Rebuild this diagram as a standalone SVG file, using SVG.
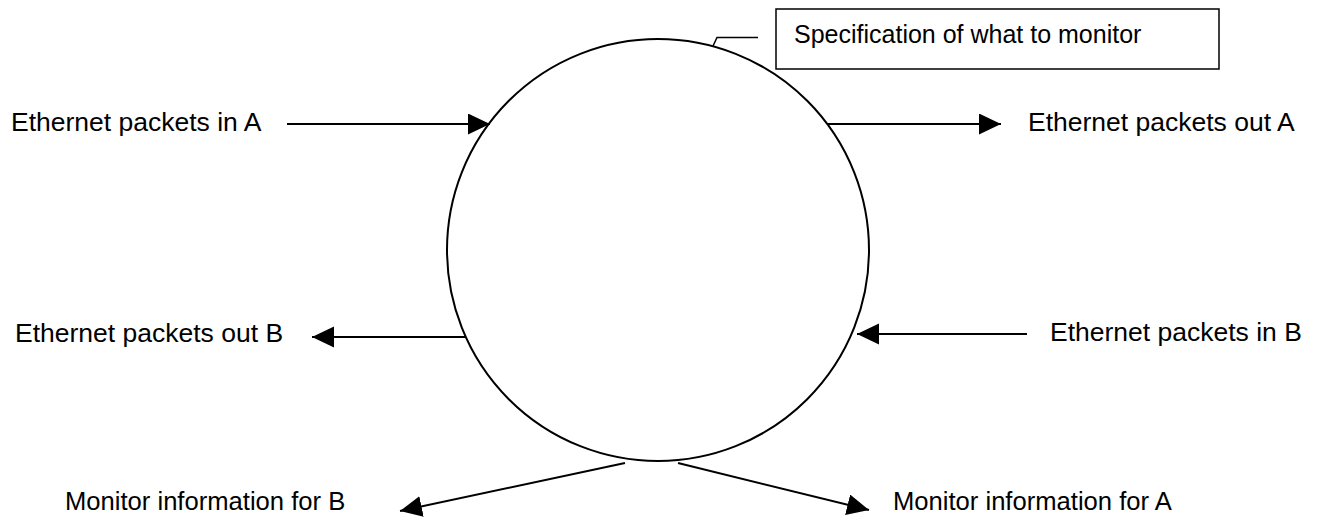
<svg xmlns="http://www.w3.org/2000/svg" width="1320" height="519" viewBox="0 0 1320 519">
  <style>
    .lbl { font-family: "Liberation Sans", Arial, sans-serif; font-size: 26.5px; fill: #000; }
    .mon { font-size: 25.6px; }
    .spec { font-size: 25px; }
    .edge { stroke: #000; stroke-width: 2; fill: none; marker-end: url(#head); }
  </style>
  <defs>
    <marker id="head" markerUnits="userSpaceOnUse" markerWidth="24" markerHeight="22" refX="22" refY="10.5" orient="auto">
      <path d="M0,0 L22,10.5 L0,21 Z" fill="#000"/>
    </marker>
  </defs>
  <rect width="1320" height="519" fill="#fff"/>

  <!-- central process -->
  <g id="process">
    <circle cx="658" cy="250" r="211" fill="none" stroke="#000" stroke-width="2"/>
  </g>

  <!-- specification box -->
  <g id="spec">
    <rect x="776" y="9" width="443" height="60" fill="#fff" stroke="#000" stroke-width="1.5"/>
    <text class="lbl spec" x="794" y="43">Specification of what to monitor</text>
  </g>

  <g id="in-a"><text class="lbl" x="11" y="131">Ethernet packets in A</text></g>
  <g id="out-a"><text class="lbl" x="1028" y="131">Ethernet packets out A</text></g>
  <g id="out-b"><text class="lbl" x="15" y="342">Ethernet packets out B</text></g>
  <g id="in-b"><text class="lbl" x="1050" y="341">Ethernet packets in B</text></g>
  <g id="mon-b"><text class="lbl mon" x="65" y="510">Monitor information for B</text></g>
  <g id="mon-a"><text class="lbl mon" x="893" y="510">Monitor information for A</text></g>

  <g id="connectors">
    <!-- leader from the circle to the specification box -->
    <polyline points="713,46 717,37.5 758,37.5" fill="none" stroke="#000" stroke-width="1.5"/>
    <line class="edge" x1="287" y1="124" x2="490" y2="124"/>
    <line class="edge" x1="827" y1="124" x2="1001" y2="124"/>
    <line class="edge" x1="466" y1="337" x2="312" y2="337"/>
    <line class="edge" x1="1027" y1="334" x2="857" y2="334"/>
    <line class="edge" x1="625" y1="463" x2="400" y2="511"/>
    <line class="edge" x1="678" y1="463" x2="869" y2="510"/>
  </g>
</svg>
